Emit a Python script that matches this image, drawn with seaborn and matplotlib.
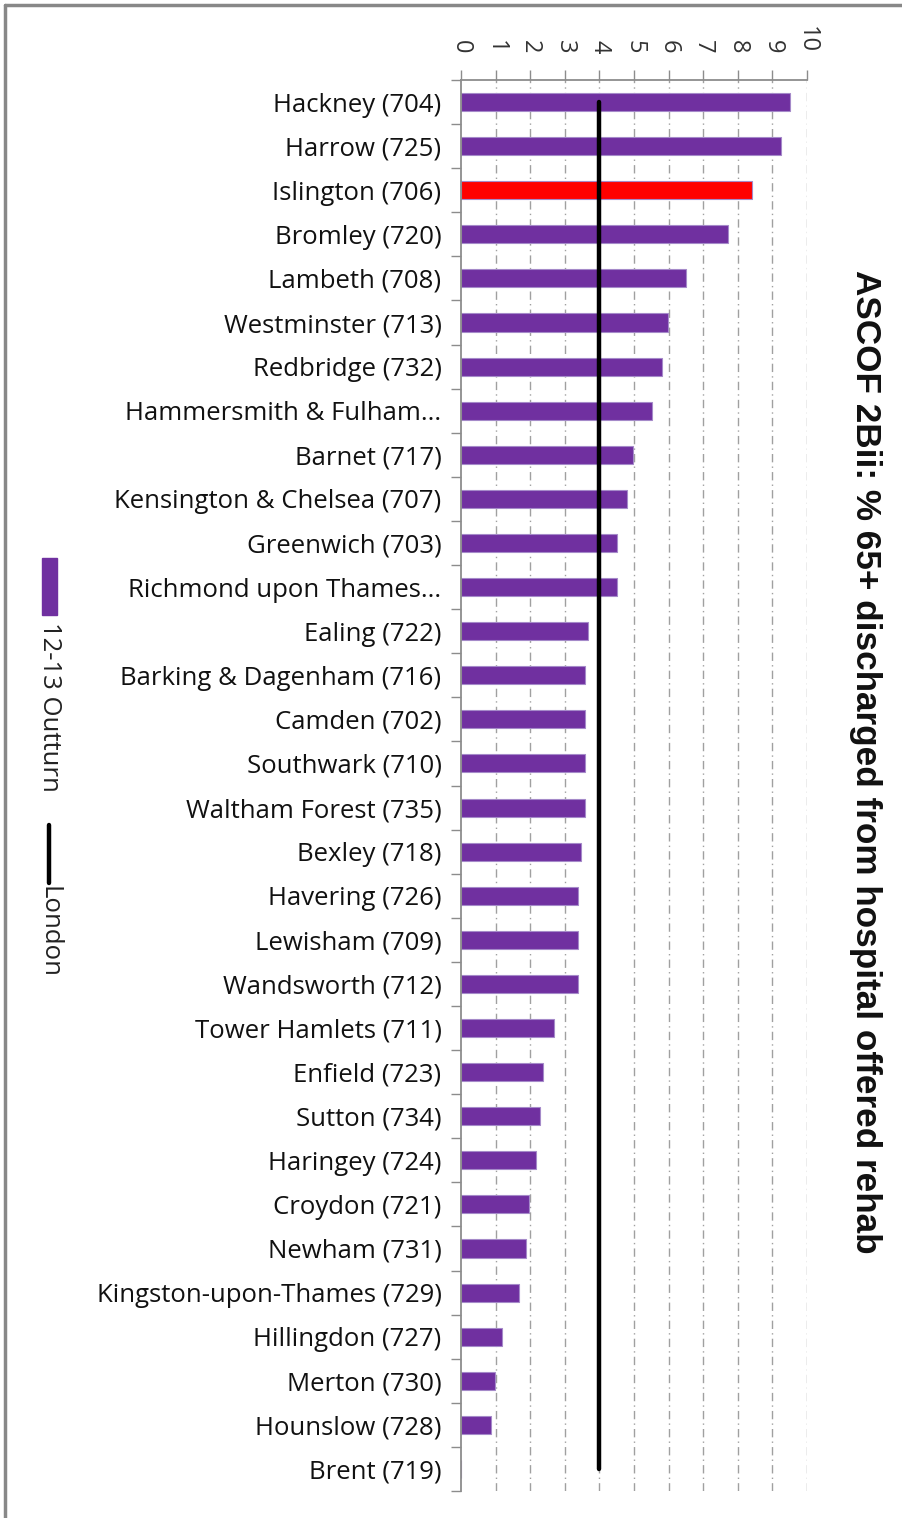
import matplotlib
matplotlib.use("Agg")
import matplotlib.pyplot as plt
import seaborn as sns
import pandas as pd
from matplotlib.lines import Line2D
from matplotlib.patches import Rectangle

# === DATOS ===
boroughs = [
    "Hackney (704)", "Harrow (725)", "Islington (706)", "Bromley (720)",
    "Lambeth (708)", "Westminster (713)", "Redbridge (732)",
    "Hammersmith & Fulham...", "Barnet (717)", "Kensington & Chelsea (707)",
    "Greenwich (703)", "Richmond upon Thames...", "Ealing (722)",
    "Barking & Dagenham (716)", "Camden (702)", "Southwark (710)",
    "Waltham Forest (735)", "Bexley (718)", "Havering (726)",
    "Lewisham (709)", "Wandsworth (712)", "Tower Hamlets (711)",
    "Enfield (723)", "Sutton (734)", "Haringey (724)", "Croydon (721)",
    "Newham (731)", "Kingston-upon-Thames (729)", "Hillingdon (727)",
    "Merton (730)", "Hounslow (728)", "Brent (719)",
]
outturn = [9.51, 9.25, 8.41, 7.72, 6.50, 5.98, 5.81, 5.51, 4.98, 4.79,
           4.50, 4.50, 3.67, 3.58, 3.58, 3.58, 3.58, 3.47, 3.38, 3.38,
           3.38, 2.69, 2.37, 2.28, 2.17, 1.97, 1.88, 1.68, 1.19, 0.98,
           0.87, 0.0]
london = 4.0
highlight = "Islington (706)"
x_ticks = list(range(0, 11))

PURPLE = "#7030A0"
RED = "#FF0000"
GRIS = "#8C8C8C"

df = pd.DataFrame({"Borough": boroughs, "Outturn": outturn})
paleta = {b: (RED if b == highlight else PURPLE) for b in boroughs}

# === FIGURA ===
sns.set_style("white")
plt.rcParams['font.family'] = ['Open Sans', 'DejaVu Sans']

W, H = 902, 1518
fig = plt.figure(figsize=(W / 100, H / 100), dpi=100)
ax = fig.add_axes([461 / W, 1 - 1491 / H, (807 - 461) / W, (1491 - 80) / H])

sns.barplot(data=df, x="Outturn", y="Borough", hue="Borough", palette=paleta,
            legend=False, width=0.41, edgecolor="#A58AC9", linewidth=0.8,
            saturation=1, ax=ax, zorder=2)

n = len(boroughs)
ax.plot([london, london], [0, n - 1], color="black", lw=3.2,
        solid_capstyle="round", zorder=3)

ax.set_xlim(0, 10)
ax.set_ylim(n - 0.5, -0.5)
ax.set_xlabel("")
ax.set_ylabel("")

# eje x arriba, rotado
ax.xaxis.tick_top()
ax.set_xticks(x_ticks)
ax.set_xticklabels([str(t) for t in x_ticks], rotation=-90, fontsize=17,
                   color="#333333")
ax.tick_params(axis="x", length=7, width=1, color=GRIS, pad=12, direction="out")
for t in x_ticks[1:]:
    ax.axvline(t, color="#A0A0A0", lw=1, ls=(0, (6, 3, 1, 3)), zorder=1)

# eje y: marcas entre categorías
ax.set_yticks([i - 0.5 for i in range(n + 1)], minor=True)
ax.tick_params(axis="y", which="major", length=0, pad=14, labelsize=18.5,
               labelcolor="#111111")
ax.tick_params(axis="y", which="minor", length=7, width=1, color=GRIS,
               direction="out", left=True)

for s in ["right", "bottom"]:
    ax.spines[s].set_visible(False)
ax.spines["left"].set_color(GRIS)
ax.spines["left"].set_linewidth(1.3)
ax.spines["top"].set_color(GRIS)
ax.spines["top"].set_linewidth(1.3)
ax.grid(False)

# === TITULO ===
fig.text(865 / W, 1 - 762 / H, "ASCOF 2Bii: % 65+ discharged from hospital offered rehab",
         rotation=-90, ha="center", va="center", fontsize=25.3, fontweight="bold",
         family=["Liberation Sans", "DejaVu Sans"], color="#111111")

# === LEYENDA ===
fig.add_artist(Rectangle((42 / W, 1 - 615 / H), 15 / W, 57 / H,
                         transform=fig.transFigure, color=PURPLE))
fig.text(49 / W, 1 - 622 / H, "12-13 Outturn", rotation=-90, ha="center",
         va="top", fontsize=18.5, color="#222222")
fig.add_artist(Line2D([49 / W, 49 / W], [1 - 825 / H, 1 - 883 / H],
                      transform=fig.transFigure, color="black", lw=3.2,
                      solid_capstyle="round"))
fig.text(49 / W, 1 - 886 / H, "London", rotation=-90, ha="center",
         va="top", fontsize=18.5, color="#222222")

# === MARCO ===
fig.add_artist(Line2D([5 / W, 1], [1 - 5 / H, 1 - 5 / H], transform=fig.transFigure,
                      color="#888888", lw=2.5))
fig.add_artist(Line2D([5 / W, 5 / W], [0, 1 - 5 / H], transform=fig.transFigure,
                      color="#888888", lw=2.5))

fig.savefig("out.png", dpi=100)
